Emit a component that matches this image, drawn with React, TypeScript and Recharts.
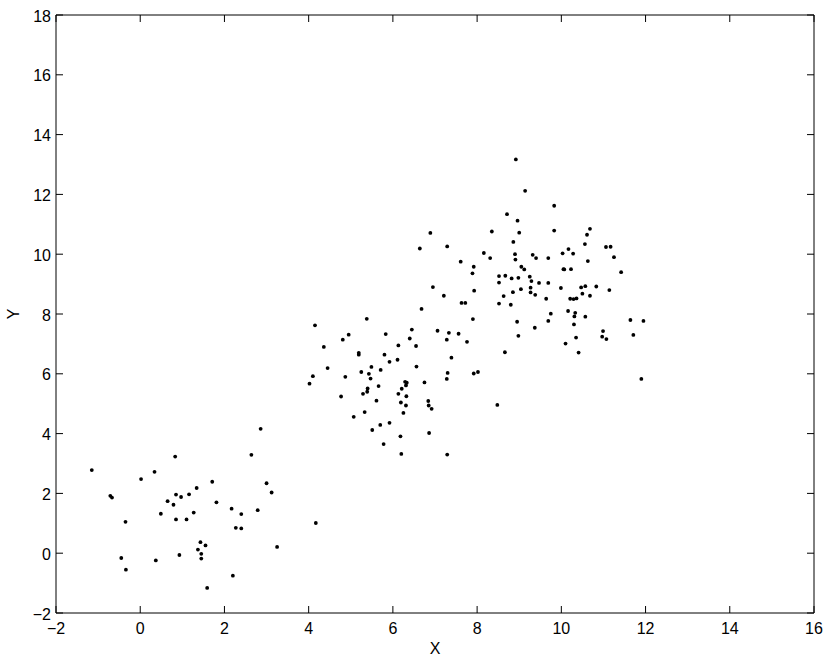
import React from 'react';
import { ScatterChart, Scatter, XAxis, YAxis } from 'recharts';

// points, grouped by cluster
const clusterA: [number, number][] = [
  [0.83, 3.23], [-1.15, 2.78], [0.34, 2.72], [0.02, 2.48], [-0.71, 1.92], [-0.67, 1.86],
  [0.85, 1.96], [1.16, 1.97], [0.97, 1.88], [0.65, 1.74], [0.79, 1.62], [0.49, 1.32],
  [0.85, 1.13], [1.1, 1.13], [-0.35, 1.05], [0.93, -0.06], [-0.45, -0.16], [0.37, -0.24],
  [-0.34, -0.55], [2.86, 4.16], [2.64, 3.29], [1.71, 2.39], [3.0, 2.34], [3.12, 2.03],
  [1.34, 2.18], [1.81, 1.7], [2.17, 1.49], [2.4, 1.31], [2.79, 1.44], [1.27, 1.36],
  [2.27, 0.85], [2.4, 0.83], [1.43, 0.37], [1.55, 0.26], [1.37, 0.12], [1.45, -0.02],
  [1.45, -0.18], [3.25, 0.21], [2.2, -0.75], [1.59, -1.16], [4.17, 1.01],
];

const clusterB: [number, number][] = [
  [5.38, 7.84], [4.15, 7.62], [4.95, 7.31], [5.83, 7.33], [4.81, 7.14], [4.36, 6.9],
  [5.19, 6.7], [5.19, 6.64], [5.8, 6.64], [5.92, 6.4], [5.49, 6.23], [4.45, 6.19],
  [5.71, 6.13], [5.25, 6.06], [5.43, 6.0], [5.47, 5.84], [4.1, 5.92], [4.87, 5.9],
  [4.02, 5.67], [5.66, 5.59], [5.4, 5.51], [5.39, 5.4], [5.29, 5.33], [4.77, 5.24],
  [5.61, 5.1], [5.33, 4.72], [5.07, 4.56], [5.92, 4.36], [5.7, 4.29], [5.51, 4.12],
  [5.78, 3.65], [6.89, 10.71], [6.64, 10.19], [7.29, 10.26], [7.61, 9.75], [6.95, 8.9],
  [7.21, 8.61], [7.63, 8.37], [7.72, 8.37], [6.68, 8.17], [6.45, 7.48], [7.06, 7.44],
  [7.33, 7.37], [7.56, 7.34], [6.4, 7.18], [7.28, 7.14], [7.76, 7.07], [6.13, 6.95],
  [6.55, 6.93], [6.11, 6.47], [7.39, 6.54], [6.56, 6.24], [7.3, 6.03], [7.28, 5.83],
  [6.29, 5.73], [6.33, 5.7], [6.31, 5.61], [6.75, 5.71], [6.21, 5.5], [6.13, 5.33],
  [6.32, 5.25], [6.19, 5.04], [6.84, 5.09], [6.85, 4.94], [6.31, 4.94], [6.92, 4.83],
  [6.25, 4.69], [6.18, 3.91], [6.86, 4.02], [6.2, 3.32], [7.29, 3.3],
];

const clusterC: [number, number][] = [
  [8.92, 13.17], [9.14, 12.12], [9.83, 11.62], [8.71, 11.34], [8.96, 11.12], [8.35, 10.76],
  [9.0, 10.72], [9.83, 10.79], [8.86, 10.41], [8.16, 10.04], [8.9, 10.0], [8.31, 9.87],
  [8.91, 9.82], [9.32, 9.98], [9.4, 9.87], [9.69, 9.87], [10.03, 10.03], [10.17, 10.17],
  [7.92, 9.58], [7.89, 9.36], [9.05, 9.58], [9.12, 9.49], [10.05, 9.5], [10.07, 9.49],
  [10.23, 9.5], [8.52, 9.27], [8.67, 9.28], [8.82, 9.19], [8.98, 9.21], [9.25, 9.25],
  [8.52, 9.05], [9.29, 9.1], [9.47, 9.04], [9.69, 9.04], [7.93, 8.78], [9.27, 8.88],
  [9.04, 8.83], [8.85, 8.73], [9.27, 8.72], [9.38, 8.64], [9.99, 8.87], [8.63, 8.6],
  [9.64, 8.51], [10.21, 8.51], [8.52, 8.35], [8.8, 8.31], [7.9, 7.83], [9.75, 8.01],
  [10.16, 8.1], [9.69, 7.77], [8.95, 7.74], [9.37, 7.54], [8.98, 7.27], [10.1, 7.01],
  [8.66, 6.72], [7.92, 6.01], [8.02, 6.06], [8.48, 4.96], [10.68, 10.85], [10.61, 10.65],
  [10.56, 10.34], [11.06, 10.24], [11.17, 10.25], [10.28, 10.02], [11.25, 9.9], [10.63, 9.77],
  [11.42, 9.4], [10.47, 8.89], [10.57, 8.93], [10.83, 8.92], [11.14, 8.8], [10.5, 8.68],
  [10.68, 8.61], [10.29, 8.5], [10.36, 8.52], [10.33, 8.04], [10.31, 7.92], [10.57, 7.91],
  [10.3, 7.65], [11.64, 7.8], [11.95, 7.77], [11.71, 7.3], [10.99, 7.43], [10.97, 7.24],
  [11.07, 7.16], [10.35, 7.21], [10.41, 6.71], [11.9, 5.83],
];

const xTicks = [-2, 0, 2, 4, 6, 8, 10, 12, 14, 16];
const yTicks = [-2, 0, 2, 4, 6, 8, 10, 12, 14, 16, 18];

const points = [...clusterA, ...clusterB, ...clusterC].map(([x, y]) => ({ x, y }));

const fontFamily = '"Liberation Sans", Arial, Helvetica, sans-serif';
const fmt = (v: number) => String(v).replace('-', '\u2212');
const TICK = 7;

const Dot = (props: any) => <circle cx={props.cx} cy={props.cy} r={1.9} fill="#000" />;
const NoDot = () => <g />;

// ticks point into the plot, matlab style
const BottomTick = (props: any) => {
  const { x, y, payload } = props;
  return (
    <g>
      <line x1={x} y1={y} x2={x} y2={y - TICK} stroke="#000" />
      <text x={x} y={y + 21} textAnchor="middle" fontSize={16} fill="#000" fontFamily={fontFamily}>
        {fmt(payload.value)}
      </text>
    </g>
  );
};

const LeftTick = (props: any) => {
  const { x, y, payload } = props;
  return (
    <g>
      <line x1={x} y1={y} x2={x + TICK} y2={y} stroke="#000" />
      <text x={x - 5} y={y + 6.5} textAnchor="end" fontSize={16} fill="#000" fontFamily={fontFamily}>
        {fmt(payload.value)}
      </text>
    </g>
  );
};

const TopTick = (props: any) => (
  <line x1={props.x} y1={props.y} x2={props.x} y2={props.y + TICK} stroke="#000" />
);

const RightTick = (props: any) => (
  <line x1={props.x} y1={props.y} x2={props.x - TICK} y2={props.y} stroke="#000" />
);

const XLabel = (props: any) => {
  const vb = props.viewBox;
  return (
    <text x={vb.x + vb.width / 2} y={654} textAnchor="middle" fontSize={16} fill="#000" fontFamily={fontFamily}>
      X
    </text>
  );
};

const YLabel = (props: any) => {
  const vb = props.viewBox;
  const cy = vb.y + vb.height / 2;
  return (
    <text
      x={13}
      y={cy}
      transform={`rotate(-90 13 ${cy})`}
      textAnchor="middle"
      dominantBaseline="central"
      fontSize={16}
      fill="#000"
      fontFamily={fontFamily}
    >
      Y
    </text>
  );
};

export default function App() {
  return (
    <div style={{ position: 'absolute', left: 0, top: 0, width: 830, height: 662, background: '#fff' }}>
      <ScatterChart width={830} height={662} margin={{ top: 14, right: 15, bottom: 0, left: 0 }}>
        <XAxis
          dataKey="x"
          type="number"
          domain={[-2, 16]}
          ticks={xTicks}
          height={49}
          stroke="#000"
          tickLine={false}
          tickSize={0}
          tickMargin={0}
          tick={<BottomTick />}
          label={<XLabel />}
          allowDataOverflow
        />
        <XAxis
          xAxisId="top"
          dataKey="x"
          orientation="top"
          type="number"
          domain={[-2, 16]}
          ticks={xTicks}
          height={1}
          stroke="#000"
          tickLine={false}
          tickSize={0}
          tickMargin={0}
          tick={<TopTick />}
          allowDataOverflow
        />
        <YAxis
          dataKey="y"
          type="number"
          domain={[-2, 18]}
          ticks={yTicks}
          width={56}
          stroke="#000"
          tickLine={false}
          tickSize={0}
          tickMargin={0}
          tick={<LeftTick />}
          label={<YLabel />}
          allowDataOverflow
        />
        <YAxis
          yAxisId="right"
          dataKey="y"
          orientation="right"
          type="number"
          domain={[-2, 18]}
          ticks={yTicks}
          width={1}
          stroke="#000"
          tickLine={false}
          tickSize={0}
          tickMargin={0}
          tick={<RightTick />}
          allowDataOverflow
        />
        <Scatter data={points} shape={<Dot />} isAnimationActive={false} />
        <Scatter data={points} xAxisId="top" yAxisId="right" shape={<NoDot />} isAnimationActive={false} />
      </ScatterChart>
    </div>
  );
}
